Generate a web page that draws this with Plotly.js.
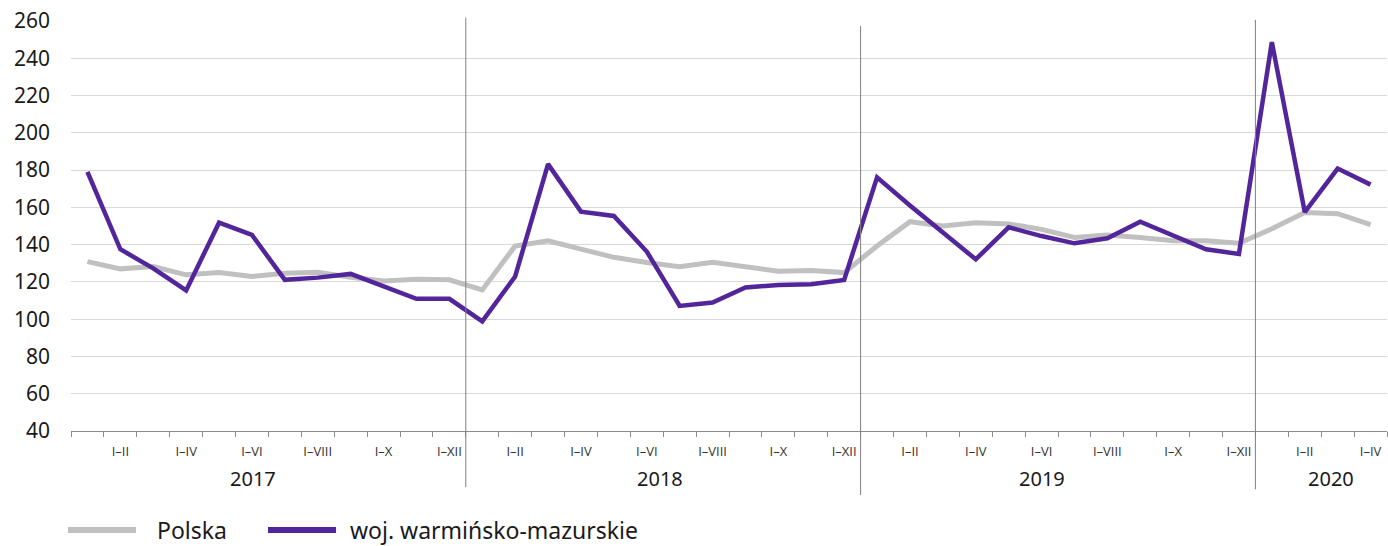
<!DOCTYPE html>
<html>
<head>
<meta charset="utf-8">
<script src="https://cdn.plot.ly/plotly-3.0.1.min.js"></script>
<style>
  html, body { margin: 0; padding: 0; background: #fff; }
  #chart { width: 1388px; height: 546px; }
</style>
</head>
<body>
<div id="chart"></div>
<script>
// years and how many cumulative periods each one has
const years = ['2017', '2018', '2019', '2020'];
const periodsPerYear = [12, 12, 12, 4];
const periodLabels = ['I', 'I–II', 'I–III', 'I–IV', 'I–V', 'I–VI', 'I–VII', 'I–VIII', 'I–IX', 'I–X', 'I–XI', 'I–XII'];

const seriesNames = ['Polska', 'woj. warmińsko-mazurskie'];

const polska = [
  130.9, 127.0, 128.2, 123.8, 125.0, 122.9, 124.6, 125.2, 122.5, 120.5, 121.4, 121.1,
  115.7, 139.3, 142.1, 137.5, 133.2, 130.4, 128.2, 130.5, 127.9, 125.7, 126.1, 125.0,
  139.3, 152.3, 150.0, 151.8, 151.1, 148.2, 143.9, 145.2, 143.8, 142.1, 142.1, 140.7,
  148.5, 157.3, 156.6, 150.7
];
const warminsko = [
  179.0, 137.5, 127.3, 115.4, 151.8, 145.2, 121.1, 122.3, 124.3, 117.5, 110.9, 110.9,
  98.8, 122.9, 183.2, 157.7, 155.4, 136.3, 107.1, 108.9, 117.0, 118.4, 118.8, 121.1,
  176.1, 161.0, 146.6, 132.1, 149.3, 144.6, 140.7, 143.4, 152.3, 145.2, 137.5, 135.0,
  248.7, 157.5, 180.8, 172.2
];

const colors = ['#c0c0c0', '#52259b'];
const FONT = '"Noto Sans", "Open Sans", sans-serif';
// roman numerals need a plain capital I
const TICKFONT = '"Open Sans", "Liberation Sans", sans-serif';

// x positions are just the running period index
const xs = [];
const tickvals = [];
const ticktext = [];
let n = 0;
periodsPerYear.forEach((count) => {
  for (let m = 0; m < count; m++) {
    xs.push(n);
    if (m % 2 === 1) {
      tickvals.push(n);
      ticktext.push(periodLabels[m]);
    }
    n++;
  }
});
const boundaries = [];
for (let i = 0; i <= n; i++) boundaries.push(i - 0.5);

const traces = [polska, warminsko].map((ys, k) => ({
  type: 'scatter',
  mode: 'lines',
  x: xs,
  y: ys,
  name: seriesNames[k],
  line: { color: colors[k], width: k === 0 ? 5 : 4.5 },
  hoverinfo: 'x+y',
  showlegend: false
}));

// year separators and year labels
const shapes = [];
const annotations = [];
const sepTop = [1.008, 0.988, 1.003];
const sepBottom = [-0.137, -0.156, -0.142];
const yearLabelX = [5.03, 17.4, 29.0, 37.8];
let start = 0;
periodsPerYear.forEach((count, i) => {
  if (i > 0) {
    shapes.push({
      type: 'line', xref: 'x', yref: 'paper',
      x0: start - 0.5, x1: start - 0.5, y0: sepBottom[i - 1], y1: sepTop[i - 1],
      line: { color: '#7f7f7f', width: 1 }
    });
  }
  annotations.push({
    xref: 'x', yref: 'paper', x: yearLabelX[i], y: -0.117,
    text: years[i], showarrow: false, xanchor: 'center', yanchor: 'middle',
    font: { family: FONT, size: 20, color: '#1a1a1a' }
  });
  start += count;
});

// legend drawn by hand so the sample lines are long like the original
const legendLineX = [[-0.0023, 0.0494], [0.1497, 0.2014]];
const legendTextX = [0.0638, 0.2105];
seriesNames.forEach((name, k) => {
  shapes.push({
    type: 'line', xref: 'paper', yref: 'paper',
    x0: legendLineX[k][0], x1: legendLineX[k][1], y0: -0.2415, y1: -0.2415,
    line: { color: colors[k], width: 6 }
  });
  annotations.push({
    xref: 'paper', yref: 'paper', x: legendTextX[k], y: -0.2415,
    text: name, showarrow: false, xanchor: 'left', yanchor: 'middle',
    font: { family: FONT, size: 23, color: '#1a1a1a' }
  });
});

const layout = {
  width: 1388,
  height: 546,
  margin: { l: 71, r: 1, t: 21, b: 115 },
  paper_bgcolor: '#ffffff',
  plot_bgcolor: '#ffffff',
  font: { family: FONT, color: '#1a1a1a' },
  xaxis: {
    range: [-0.5, n - 0.5],
    tickmode: 'array',
    tickvals: tickvals,
    ticktext: ticktext,
    ticks: '',
    tickfont: { family: TICKFONT, size: 13, color: '#333333' },
    ticklabelstandoff: 8,
    showgrid: false,
    zeroline: false,
    showline: true,
    linecolor: '#8c8c8c',
    linewidth: 1,
    minor: {
      tickmode: 'array',
      tickvals: boundaries,
      ticks: 'outside',
      ticklen: 5,
      tickcolor: '#8c8c8c',
      tickwidth: 1,
      showgrid: false
    }
  },
  yaxis: {
    range: [40, 260],
    dtick: 20,
    tick0: 40,
    ticks: '',
    tickfont: { family: FONT, size: 21, color: '#1a1a1a' },
    ticklabelstandoff: 20,
    showgrid: true,
    gridcolor: '#d9d9d9',
    gridwidth: 1,
    zeroline: false,
    showline: false
  },
  shapes: shapes,
  annotations: annotations
};

Plotly.newPlot('chart', traces, layout, { displayModeBar: false, staticPlot: true });
</script>
</body>
</html>
